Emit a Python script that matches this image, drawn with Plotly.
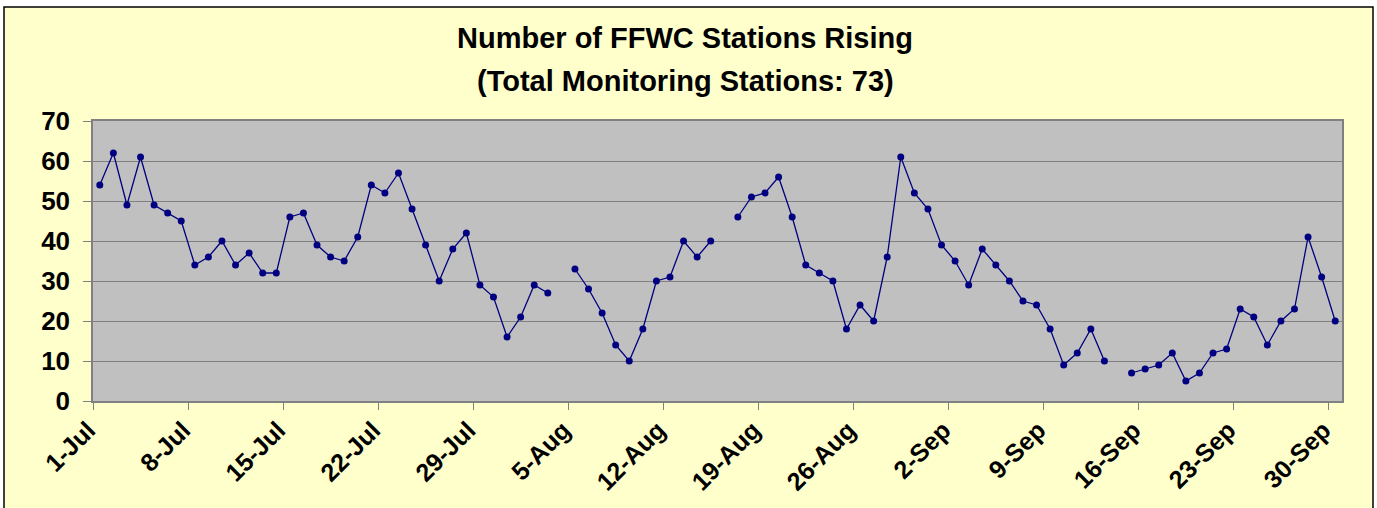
import plotly.graph_objects as go
import pandas as pd

# ---- data ----
dates = pd.date_range("2007-07-01", "2007-09-30", freq="D").strftime("%Y-%m-%d").tolist()
stations_rising = [
    54, 62, 49, 61, 49, 47, 45, 34, 36, 40, 34, 37, 32, 32, 46, 47, 39, 36, 35, 41,
    54, 52, 57, 48, 39, 30, 38, 42, 29, 26, 16, 21, 29, 27, None,
    33, 28, 22, 14, 10, 18, 30, 31, 40, 36, 40, None,
    46, 51, 52, 56, 46, 34, 32, 30, 18, 24, 20, 36, 61, 52, 48, 39, 35, 29, 38, 34,
    30, 25, 24, 18, 9, 12, 18, 10, None,
    7, 8, 9, 12, 5, 7, 12, 13, 23, 21, 14, 20, 23, 41, 31, 20,
]
tick_dates = dates[::7]
tick_labels = pd.to_datetime(tick_dates).strftime("%-d-%b").tolist()
title_line1 = "Number of FFWC Stations Rising"
title_line2 = "(Total Monitoring Stations: 73)"

FONT = "Liberation Sans, Arial, sans-serif"

fig = go.Figure()
fig.add_trace(go.Scatter(
    x=dates, y=stations_rising,
    xperiod=86400000, xperiodalignment="middle",
    mode="lines+markers",
    line=dict(color="#000080", width=1.3),
    marker=dict(color="#000080", size=7),
    connectgaps=False,
    showlegend=False,
))

# plot-area pixel geometry helpers (for frame/title placement)
L, R, T, B = 93, 1342, 121, 401
W, H = R - L, B - T
def px(X):
    return (X - L) / W
def py(Y):
    return (B - Y) / H

shapes = [
    # white outside strips
    dict(type="rect", xref="paper", yref="paper", x0=px(-5), x1=px(1385), y0=py(7), y1=py(-5),
         fillcolor="white", line=dict(width=0), layer="above"),
    dict(type="rect", xref="paper", yref="paper", x0=px(-5), x1=px(4), y0=py(520), y1=py(-5),
         fillcolor="white", line=dict(width=0), layer="above"),
    dict(type="rect", xref="paper", yref="paper", x0=px(1373), x1=px(1385), y0=py(520), y1=py(-5),
         fillcolor="white", line=dict(width=0), layer="above"),
    # black chart frame
    dict(type="rect", xref="paper", yref="paper", x0=px(4), x1=px(1373), y0=py(530), y1=py(7),
         fillcolor="rgba(0,0,0,0)", line=dict(color="black", width=1.5), layer="above"),
]

fig.update_layout(
    width=1377, height=508,
    margin=dict(l=L, r=1377 - R, t=T, b=508 - B, pad=0),
    paper_bgcolor="#FFFFCC",
    plot_bgcolor="#C0C0C0",
    font=dict(family=FONT, color="black"),
    shapes=shapes,
    annotations=[
        dict(text="<b>%s</b>" % title_line1, xref="paper", yref="paper", x=px(685), y=py(38),
             xanchor="center", yanchor="middle", showarrow=False, font=dict(size=29, family=FONT)),
        dict(text="<b>%s</b>" % title_line2, xref="paper", yref="paper", x=px(685), y=py(81),
             xanchor="center", yanchor="middle", showarrow=False, font=dict(size=29, family=FONT)),
    ],
)

fig.update_xaxes(
    type="date",
    range=["2007-07-01", "2007-10-01"],
    tickmode="array", tickvals=tick_dates, ticktext=["<b>%s</b>\u00a0" % t for t in tick_labels],
    tickangle=-45,
    ticks="outside", ticklen=7, tickcolor="#808080", tickwidth=1,
    tickfont=dict(size=25, family=FONT, color="black"),
    ticklabelstandoff=-9,
    showgrid=False, zeroline=False,
    showline=True, linecolor="#808080", linewidth=1.5, mirror=True,
)
fig.update_yaxes(
    range=[0, 70], dtick=10,
    tickvals=list(range(0, 71, 10)), ticktext=["<b>%d</b>" % v for v in range(0, 71, 10)],
    ticks="outside", ticklen=8, tickcolor="#808080", tickwidth=1,
    tickfont=dict(size=26, family=FONT, color="black"),
    ticklabelstandoff=8,
    showgrid=True, gridcolor="#808080", gridwidth=1,
    zeroline=False,
    showline=True, linecolor="#808080", linewidth=1.5, mirror=True,
)

fig.write_html(
    "out.html",
    config={"displayModeBar": False},
    post_script="document.body.style.margin='0';document.body.style.overflow='hidden';",
)
